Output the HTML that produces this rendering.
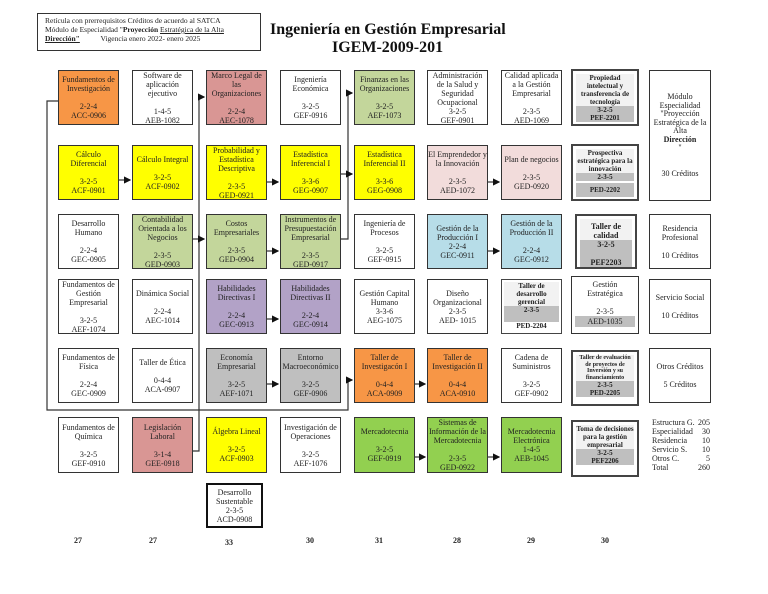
<!DOCTYPE html><html><head><meta charset="utf-8"><style>
body{margin:0;width:768px;height:594px;background:#fff;position:relative;overflow:hidden;font-family:"Liberation Serif",serif;color:#222}
.b{position:absolute;border:1.3px solid #333;box-sizing:border-box;font-size:8px;line-height:9px;text-align:center;display:flex;flex-direction:column;justify-content:center;overflow:hidden}
.w{background:#fff}.o{background:#f79646}.r{background:#d99694}.g{background:#c3d69b}.y{background:#ffff00}.p{background:#f2dcdb}.bl{background:#b7dde8}.v{background:#b2a2c7}.gr{background:#bfbfbf}.lg{background:#92d050}
.s{border:2px solid #444;padding:3px;justify-content:flex-start;font-weight:bold}
.s .t{background:#f2f2f2}.s .d{background:#bfbfbf}
.n{position:absolute;font-size:8px;font-weight:bold;top:536px}
</style></head><body>
<div style="position:absolute;left:37px;top:13px;width:224px;height:38px;border:1.3px solid #333;box-sizing:border-box;font-size:7.5px;line-height:9px;padding:2px 7px">Retícula con prerrequisitos Créditos de acuerdo al SATCA<br>Módulo de Especialidad "<b>Proyección</b> <u>Estratégica de la Alta</u><br><b><u>Dirección"</u></b> &nbsp;&nbsp;&nbsp;&nbsp;&nbsp;&nbsp;&nbsp;&nbsp;&nbsp;&nbsp;Vigencia enero 2022- enero 2025</div>
<div style="position:absolute;left:270px;top:21px;font-size:16px;font-weight:bold;line-height:18px;color:#111">Ingeniería en Gestión Empresarial</div>
<div style="position:absolute;left:332px;top:39px;font-size:16px;font-weight:bold;line-height:18px;color:#111">IGEM-2009-201</div>
<svg style="position:absolute;left:0;top:0" width="768" height="594"><defs><marker id="a" markerWidth="6" markerHeight="6" refX="5" refY="3" orient="auto"><path d="M0,0L6,3L0,6z" fill="#111"/></marker></defs>
<g stroke="#333" stroke-width="1.2" fill="none">
<path d="M58,101H47V410H348V380H352" marker-end="url(#a)"/>
<path d="M193,451H199V97H204" marker-end="url(#a)"/>
<path d="M193,239H204" marker-end="url(#a)"/>
<path d="M341,239H348V93H352" marker-end="url(#a)"/>
<path d="M119,180H130" marker-end="url(#a)"/>
<path d="M267,182H278" marker-end="url(#a)"/>
<path d="M341,174H352" marker-end="url(#a)"/>
<path d="M267,251H278" marker-end="url(#a)"/>
<path d="M267,319H278" marker-end="url(#a)"/>
<path d="M267,384H278" marker-end="url(#a)"/>
<path d="M488,182H499" marker-end="url(#a)"/>
<path d="M488,251H499" marker-end="url(#a)"/>
<path d="M414,384H425" marker-end="url(#a)"/>
<path d="M414,457H425" marker-end="url(#a)"/>
<path d="M488,457H499" marker-end="url(#a)"/>
</g></svg>
<!-- row1 -->
<div class="b o" style="left:58px;top:70px;width:61px;height:55px">Fundamentos de Investigación<br><br>2-2-4<br>ACC-0906</div>
<div class="b w" style="left:132px;top:70px;width:61px;height:55px">Software de aplicación ejecutivo<br><br>1-4-5<br>AEB-1082</div>
<div class="b r" style="left:206px;top:70px;width:61px;height:55px">Marco Legal de las Organizaciones<br><br>2-2-4<br>AEC-1078</div>
<div class="b w" style="left:280px;top:70px;width:61px;height:55px">Ingeniería Económica<br><br>3-2-5<br>GEF-0916</div>
<div class="b g" style="left:354px;top:70px;width:61px;height:55px">Finanzas en las Organizaciones<br><br>3-2-5<br>AEF-1073</div>
<div class="b w" style="left:427px;top:70px;width:61px;height:55px">Administración de la Salud y Seguridad Ocupacional<br>3-2-5<br>GEF-0901</div>
<div class="b w" style="left:501px;top:70px;width:61px;height:55px">Calidad aplicada a la Gestión Empresarial<br><br>2-3-5<br>AED-1069</div>
<div class="b s" style="left:571px;top:69px;width:68px;height:57px;font-size:7px;line-height:8px"><div class="t">Propiedad intelectual y transferencia de tecnología</div><div class="d">3-2-5<br>PEF-2201</div></div>
<div class="b w" style="left:649px;top:70px;width:62px;height:131px;line-height:8.5px">Módulo Especialidad "Proyección Estratégica de la Alta <b>Dirección</b>"<br><br><br>30 Créditos</div>
<!-- row2 -->
<div class="b y" style="left:58px;top:145px;width:61px;height:55px">Cálculo Diferencial<br><br>3-2-5<br>ACF-0901</div>
<div class="b y" style="left:132px;top:145px;width:61px;height:55px">Cálculo Integral<br><br>3-2-5<br>ACF-0902</div>
<div class="b y" style="left:206px;top:145px;width:61px;height:55px">Probabilidad y Estadística Descriptiva<br><br>2-3-5<br>GED-0921</div>
<div class="b y" style="left:280px;top:145px;width:61px;height:55px">Estadística Inferencial I<br><br>3-3-6<br>GEG-0907</div>
<div class="b y" style="left:354px;top:145px;width:61px;height:55px">Estadística Inferencial II<br><br>3-3-6<br>GEG-0908</div>
<div class="b p" style="left:427px;top:145px;width:61px;height:55px">El Emprendedor y la Innovación<br><br>2-3-5<br>AED-1072</div>
<div class="b p" style="left:501px;top:145px;width:61px;height:55px">Plan de negocios<br><br>2-3-5<br>GED-0920</div>
<div class="b s" style="left:571px;top:144px;width:68px;height:57px;font-size:7px;line-height:8px"><div class="t">Prospectiva estratégica para la innovación</div><div class="d">2-3-5</div><div class="d" style="margin-top:2px;padding:3px 0">PED-2202</div></div>
<!-- row3 -->
<div class="b w" style="left:58px;top:214px;width:61px;height:55px">Desarrollo Humano<br><br>2-2-4<br>GEC-0905</div>
<div class="b g" style="left:132px;top:214px;width:61px;height:55px">Contabilidad Orientada a los Negocios<br><br>2-3-5<br>GED-0903</div>
<div class="b g" style="left:206px;top:214px;width:61px;height:55px">Costos Empresariales<br><br>2-3-5<br>GED-0904</div>
<div class="b g" style="left:280px;top:214px;width:61px;height:55px">Instrumentos de Presupuestación Empresarial<br><br>2-3-5<br>GED-0917</div>
<div class="b w" style="left:354px;top:214px;width:61px;height:55px">Ingeniería de Procesos<br><br>3-2-5<br>GEF-0915</div>
<div class="b bl" style="left:427px;top:214px;width:61px;height:55px">Gestión de la Producción I<br>2-2-4<br>GEC-0911</div>
<div class="b bl" style="left:501px;top:214px;width:61px;height:55px">Gestión de la Producción II<br><br>2-2-4<br>GEC-0912</div>
<div class="b s" style="left:575px;top:214px;width:62px;height:55px;font-size:8px"><div class="t" style="padding-top:3px">Taller de calidad</div><div class="d" style="flex:1">3-2-5<br><br>PEF2203</div></div>
<div class="b w" style="left:649px;top:214px;width:62px;height:55px">Residencia Profesional<br><br>10 Créditos</div>
<!-- row4 -->
<div class="b w" style="left:58px;top:279px;width:61px;height:55px">Fundamentos de Gestión Empresarial<br><br>3-2-5<br>AEF-1074</div>
<div class="b w" style="left:132px;top:279px;width:61px;height:55px">Dinámica Social<br><br>2-2-4<br>AEC-1014</div>
<div class="b v" style="left:206px;top:279px;width:61px;height:55px">Habilidades Directivas I<br><br>2-2-4<br>GEC-0913</div>
<div class="b v" style="left:280px;top:279px;width:61px;height:55px">Habilidades Directivas II<br><br>2-2-4<br>GEC-0914</div>
<div class="b w" style="left:354px;top:279px;width:61px;height:55px">Gestión Capital Humano<br>3-3-6<br>AEG-1075</div>
<div class="b w" style="left:427px;top:279px;width:61px;height:55px">Diseño Organizacional<br>2-3-5<br>AED- 1015</div>
<div class="b s" style="left:501px;top:279px;width:61px;height:55px;font-size:7px;line-height:8px;border-width:1.3px;padding:2px"><div class="t">Taller de desarrollo gerencial</div><div class="d">2-3-5<br>&nbsp;</div><div>PED-2204</div></div>
<div class="b w" style="left:571px;top:276px;width:68px;height:58px;justify-content:flex-start;padding:3px">Gestión Estratégica<br><br>2-3-5<div style="background:#bfbfbf;font-size:8px;line-height:11px">AED-1035</div></div>
<div class="b w" style="left:649px;top:279px;width:62px;height:55px">Servicio Social<br><br>10 Créditos</div>
<!-- row5 -->
<div class="b w" style="left:58px;top:348px;width:61px;height:55px">Fundamentos de Física<br><br>2-2-4<br>GEC-0909</div>
<div class="b w" style="left:132px;top:348px;width:61px;height:55px">Taller de Ética<br><br>0-4-4<br>ACA-0907</div>
<div class="b gr" style="left:206px;top:348px;width:61px;height:55px">Economía Empresarial<br><br>3-2-5<br>AEF-1071</div>
<div class="b gr" style="left:280px;top:348px;width:61px;height:55px">Entorno Macroeconómico<br><br>3-2-5<br>GEF-0906</div>
<div class="b o" style="left:354px;top:348px;width:61px;height:55px">Taller de Investigacón I<br><br>0-4-4<br>ACA-0909</div>
<div class="b o" style="left:427px;top:348px;width:61px;height:55px">Taller de Investigación II<br><br>0-4-4<br>ACA-0910</div>
<div class="b w" style="left:501px;top:348px;width:61px;height:55px">Cadena de Suministros<br><br>3-2-5<br>GEF-0902</div>
<div class="b s" style="left:571px;top:350px;width:68px;height:56px;font-size:6px;line-height:6.5px"><div class="t">Taller de evaluación de proyectos de Inversión y su financiamiento</div><div class="d" style="font-size:7px;line-height:8px">2-3-5<br>PED-2205</div></div>
<div class="b w" style="left:649px;top:348px;width:62px;height:55px">Otros Créditos<br><br>5 Créditos</div>
<!-- row6 -->
<div class="b w" style="left:58px;top:417px;width:61px;height:56px">Fundamentos de Química<br><br>3-2-5<br>GEF-0910</div>
<div class="b r" style="left:132px;top:417px;width:61px;height:56px">Legislación Laboral<br><br>3-1-4<br>GEE-0918</div>
<div class="b y" style="left:206px;top:417px;width:61px;height:56px">Álgebra Lineal<br><br>3-2-5<br>ACF-0903</div>
<div class="b w" style="left:280px;top:417px;width:61px;height:56px">Investigación de Operaciones<br><br>3-2-5<br>AEF-1076</div>
<div class="b lg" style="left:354px;top:417px;width:61px;height:56px">Mercadotecnia<br><br>3-2-5<br>GEF-0919</div>
<div class="b lg" style="left:427px;top:417px;width:61px;height:56px">Sistemas de Información de la Mercadotecnia<br><br>2-3-5<br>GED-0922</div>
<div class="b lg" style="left:501px;top:417px;width:61px;height:56px">Mercadotecnia Electrónica<br>1-4-5<br>AEB-1045</div>
<div class="b s" style="left:571px;top:420px;width:68px;height:57px;font-size:7px;line-height:8px"><div class="t">Toma de decisiones para la gestión empresarial</div><div class="d">3-2-5<br>PEF2206</div></div>
<div style="position:absolute;left:652px;top:418px;font-size:8px;line-height:9px;width:58px">
<div style="display:flex;justify-content:space-between"><span>Estructura G.</span><span>205</span></div>
<div style="display:flex;justify-content:space-between"><span>Especialidad</span><span>30</span></div>
<div style="display:flex;justify-content:space-between"><span>Residencia</span><span>10</span></div>
<div style="display:flex;justify-content:space-between"><span>Servicio S.</span><span>10</span></div>
<div style="display:flex;justify-content:space-between"><span>Otros C.</span><span>5</span></div>
<div style="display:flex;justify-content:space-between"><span>Total</span><span>260</span></div></div>
<div class="b w" style="left:206px;top:483px;width:57px;height:45px;border:2.5px solid #111">Desarrollo Sustentable<br>2-3-5<br>ACD-0908</div>
<div class="n" style="left:74px">27</div><div class="n" style="left:149px">27</div><div class="n" style="left:225px;top:538px">33</div><div class="n" style="left:306px">30</div><div class="n" style="left:375px">31</div><div class="n" style="left:453px">28</div><div class="n" style="left:527px">29</div><div class="n" style="left:601px">30</div>
</body></html>
